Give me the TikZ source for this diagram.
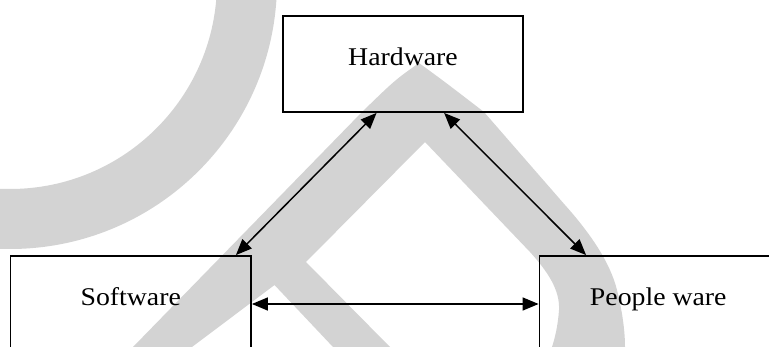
\documentclass[tikz,border=0pt]{standalone}
\usepackage{fontspec}
\setmainfont{Liberation Serif}[FakeStretch=1.09]
\usetikzlibrary{arrows.meta,calc}
\definecolor{wm}{RGB}{211,211,211}
\begin{document}
\begin{tikzpicture}[x=1pt,y=-1pt,
  box/.style={draw=black,line width=1.8pt,minimum width=240pt,minimum height=96pt,inner sep=0pt},
  lbl/.style={font=\fontsize{25.5}{30}\selectfont,inner sep=0pt,anchor=base},
  arr/.style={line width=1.5pt,{Triangle[length=16pt,width=13pt]}-{Triangle[length=16pt,width=13pt]}},
  wmfill/.style={fill=wm}]
\useasboundingbox (0,0) rectangle (769,347);
% watermark
\fill[wmfill,even odd rule] (10,-18) circle[radius=267] (10,-18) circle[radius=207];
\fill[wmfill] (133,347) -- (362,112)
  .. controls (395,80) .. (419,63)
  .. controls (445,82) .. (484,112)
  -- (565,205)
  .. controls (590,233) and (610,262) .. (617,290)
  .. controls (622,310) and (625,330) .. (625,347)
  -- (552,347)
  .. controls (555,338) and (558,325) .. (559,310)
  .. controls (560,290) and (548,272) .. (530,252)
  -- (425,142) -- (306,262) -- (390,347) -- (333,347) -- (274.5,285) -- (192,347) -- cycle;
% boxes
\node[box] (hw) at (403,64) {};
\node[box,minimum width=240.5pt] (sw) at (130.75,304) {};
\node[box,minimum width=240.5pt] (pw) at (659.75,304) {};
% labels
\node[lbl] (hwt) at ($(hw.north)+(0,50.6)$) {Hardware};
\node[lbl] (swt) at ($(sw.north)+(0,50.6)$) {Software};
\node[lbl] (pwt) at ($(pw.north)+(-1.5,50.6)$) {People ware};
% arrows
\draw[arr] ($(hw.south west)+(94.5,0)$) -- ($(sw.north east)+(-16,0)$);
\draw[arr] ($(hw.south west)+(162,0)$) -- ($(pw.north west)+(47.5,0)$);
\draw[arr] (sw.east) -- (pw.west);
\end{tikzpicture}
\end{document}
